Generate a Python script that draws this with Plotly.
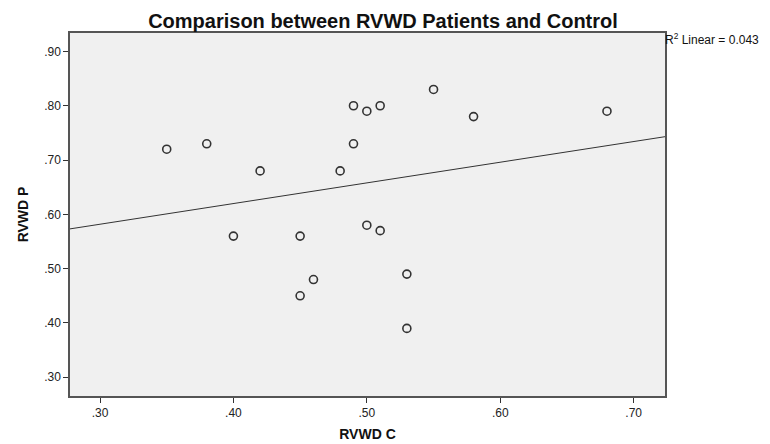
import numpy as np
import plotly.graph_objects as go

rvwd_c = [0.35, 0.38, 0.40, 0.42, 0.45, 0.45, 0.46, 0.48, 0.49, 0.49,
          0.50, 0.50, 0.51, 0.51, 0.53, 0.53, 0.55, 0.58, 0.68]
rvwd_p = [0.72, 0.73, 0.56, 0.68, 0.56, 0.45, 0.48, 0.68, 0.80, 0.73,
          0.79, 0.58, 0.80, 0.57, 0.49, 0.39, 0.83, 0.78, 0.79]

x_ticks = [0.30, 0.40, 0.50, 0.60, 0.70]
x_tick_labels = [".30", ".40", ".50", ".60", ".70"]
y_ticks = [0.30, 0.40, 0.50, 0.60, 0.70, 0.80, 0.90]
y_tick_labels = [".30", ".40", ".50", ".60", ".70", ".80", ".90"]

x_range = [0.2775, 0.7235]
y_range = [0.2655, 0.934]

slope, intercept = np.polyfit(rvwd_c, rvwd_p, 1)
line_x = np.array(x_range)
line_y = slope * line_x + intercept

FONT = "Liberation Sans, Arial"

fig = go.Figure()
fig.add_trace(go.Scatter(
    x=line_x, y=line_y, mode="lines",
    line=dict(color="#333333", width=1), hoverinfo="skip", showlegend=False))
fig.add_trace(go.Scatter(
    x=rvwd_c, y=rvwd_p, mode="markers",
    marker=dict(symbol="circle-open", size=8, color="#333333", line=dict(width=1.6)),
    showlegend=False))

axis_common = dict(
    showgrid=False, zeroline=False, ticks="outside", ticklen=5, tickwidth=1,
    tickcolor="#333333", showline=True, linecolor="#555555", linewidth=1.5,
    mirror=True, tickfont=dict(family=FONT, size=12, color="#222222"))

fig.update_layout(
    width=770, height=444,
    margin=dict(l=62, r=113, t=25, b=47),
    paper_bgcolor="white", plot_bgcolor="#f0f0f0",
    title=dict(text="<b>Comparison between RVWD Patients and Control</b>",
               x=375 / 770, xanchor="center",
               y=1 - 13 / 444, yanchor="middle",
               font=dict(family=FONT, size=20, color="#111111")),
    xaxis=dict(range=x_range, tickvals=x_ticks, ticktext=x_tick_labels,
               title=dict(text="<b>RVWD C</b>", standoff=10,
                          font=dict(family=FONT, size=14, color="#111111")),
               **axis_common),
    yaxis=dict(range=y_range, tickvals=y_ticks, ticktext=y_tick_labels,
               title=dict(text="<b>RVWD P</b>", standoff=12,
                          font=dict(family=FONT, size=14, color="#111111")),
               **axis_common),
    annotations=[dict(
        text="R<sup>2</sup> Linear = 0.043", xref="paper", yref="paper",
        x=1.0, y=1.0, xanchor="left", yanchor="top", xshift=-2, yshift=4,
        showarrow=False, font=dict(family=FONT, size=12, color="#111111"))],
)

fig.write_html("out.html")
